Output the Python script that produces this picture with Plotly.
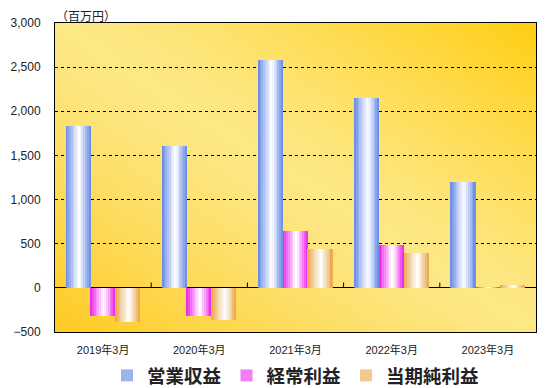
import base64, struct, zlib
import plotly.graph_objects as go

categories = ["2019年3月", "2020年3月", "2021年3月", "2022年3月", "2023年3月"]
series_names = ["営業収益", "経常利益", "当期純利益"]
operating_revenue = [1830, 1605, 2580, 2150, 1195]
ordinary_income = [-318, -318, 640, 482, 5]
net_income = [-392, -364, 443, 390, 35]
y_ticks = [-500, 0, 500, 1000, 1500, 2000, 2500, 3000]

series_values = [operating_revenue, ordinary_income, net_income]
edge_colors = [(100, 135, 230), (235, 30, 235), (232, 165, 70)]
legend_colors = ["#9db3f0", "#f27ef2", "#f3c98d"]

# ---------- background gradient image (PNG built in memory) ----------
def lerp(a, b, t):
    return tuple(int(round(a[i] + (b[i] - a[i]) * t)) for i in range(3))

W, H = 96, 64
c_tr, c_mid, c_bl = (255, 206, 20), (253, 232, 135), (254, 203, 35)
rows = b""
for j in range(H):
    row = b"\x00"
    for i in range(W):
        d = (i / (W - 1) + (1 - j / (H - 1))) / 2
        if d >= 0.5:
            t = (d - 0.5) / 0.5
            c = lerp(c_mid, c_tr, t ** 1.3)
        else:
            t = (0.5 - d) / 0.5
            c = lerp(c_mid, c_bl, t ** 1.3)
        row += bytes(c)
    rows += row

def chunk(tag, data):
    return struct.pack(">I", len(data)) + tag + data + struct.pack(">I", zlib.crc32(tag + data) & 0xffffffff)

png = b"\x89PNG\r\n\x1a\n" + chunk(b"IHDR", struct.pack(">IIBBBBB", W, H, 8, 2, 0, 0, 0)) \
    + chunk(b"IDAT", zlib.compress(rows, 9)) + chunk(b"IEND", b"")
bg_uri = "data:image/png;base64," + base64.b64encode(png).decode()

# ---------- bars with cylinder-like gradient made of strips ----------
fig = go.Figure()
bar_w = 0.257
starts = [-0.385, -0.128, 0.129]
N = 14
for s, (name, vals) in enumerate(zip(series_names, series_values)):
    sw = bar_w / N
    for k in range(N):
        u = (k + 0.5) / N
        c0 = 0.55
        t = abs(u - c0) / (c0 if u < c0 else 1 - c0)
        t = min(1.0, t) ** 1.1
        col = lerp((255, 255, 255), edge_colors[s], t)
        fig.add_trace(go.Bar(
            x=categories, y=vals, name=name,
            offset=starts[s] + k * sw, width=sw * 1.02,
            marker=dict(color="rgb(%d,%d,%d)" % col, line=dict(width=0)),
            showlegend=False, hoverinfo="skip",
        ))
    fig.add_trace(go.Bar(
        x=[categories[0]], y=[None], name=name,
        marker=dict(color=legend_colors[s], line=dict(width=0)),
        showlegend=True,
    ))

font_family = "Liberation Sans, Arial, Noto Sans CJK JP"
shapes = [dict(type="line", xref="x", yref="y", x0=i + 0.5, x1=i + 0.5, y0=0, y1=60,
               line=dict(color="black", width=1)) for i in range(len(categories) - 1)]

fig.update_layout(
    width=542, height=386,
    margin=dict(l=47, r=14, t=15, b=62, autoexpand=False),
    paper_bgcolor="white",
    plot_bgcolor="rgba(0,0,0,0)",
    barmode="overlay",
    bargap=0,
    font=dict(family=font_family, color="#222222", size=11),
    images=[dict(source=bg_uri, xref="paper", yref="paper", x=0, y=1, sizex=1, sizey=1,
                 sizing="stretch", layer="below")],
    xaxis=dict(
        categoryorder="array", categoryarray=categories,
        showline=True, linecolor="black", linewidth=1, mirror=True,
        ticks="", showgrid=False, tickfont=dict(size=11, color="#222222"),
        ticklabelstandoff=8,
    ),
    yaxis=dict(
        range=[-500, 3000], tickvals=y_ticks,
        tickformat=",d",
        showline=True, linecolor="black", linewidth=1, mirror=True,
        showgrid=True, gridcolor="black", griddash="dot", gridwidth=1,
        zeroline=True, zerolinecolor="black", zerolinewidth=1,
        ticks="", ticklabelstandoff=11, tickfont=dict(size=12, color="#222222"),
    ),
    legend=dict(orientation="h", x=0.5, xanchor="center", y=-0.142, yanchor="middle",
                font=dict(size=18.5, color="#222222", family="Noto Sans CJK JP", weight=600),
                itemwidth=30, tracegroupgap=0, bgcolor="rgba(0,0,0,0)"),
    shapes=shapes,
    annotations=[dict(text="（百万円）", xref="paper", yref="paper", x=0.0, y=1,
                      xanchor="left", yanchor="middle", yshift=8, borderpad=0, showarrow=False,
                      font=dict(size=12, color="#222222", family="Noto Sans CJK JP"))],
)

fig.write_html("out.html")
